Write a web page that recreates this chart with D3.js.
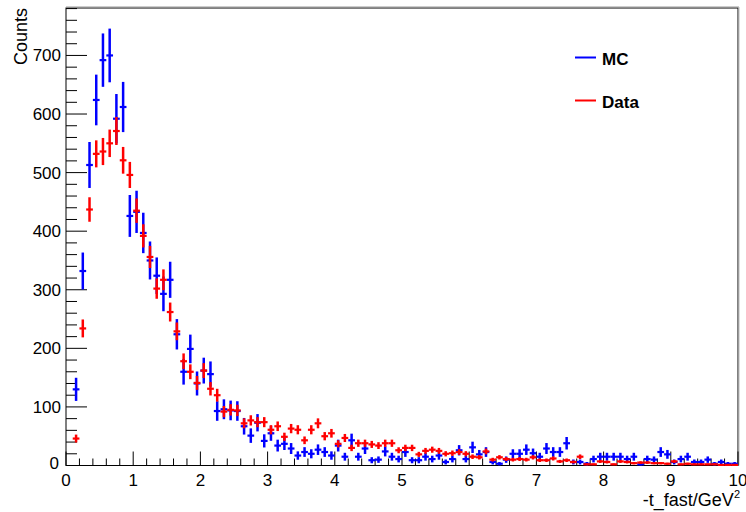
<!DOCTYPE html>
<html><head><meta charset="utf-8">
<script src="https://cdn.jsdelivr.net/npm/d3@7"></script>
<style>body{margin:0;background:#fff}svg{display:block}text{font-family:"Liberation Sans",Arial,Helvetica,sans-serif}</style>
</head><body><div id="chart"></div>
<script>
const binCenters = d3.range(100).map(i => +(0.05 + i * 0.1).toFixed(2));
const mcCounts = [0,130,332,513,624,692,700,592,612,426,
  433,397,350,324,293,317,224,160,199,140,
  162,156,93,96,94,93,67,51,73,42,
  55,34,37,29,17,23,20,27,23,17,
  34,15,43,15,29,9,10,24,15,11,
  23,9,9,15,11,17,6,11,26,11,
  31,19,23,6,3,10,20,20,27,21,
  15,29,23,23,38,6,6,3,11,15,
  15,15,15,11,15,2,11,10,23,19,
  6,11,15,6,6,10,3,6,3,3];
const dataCounts = [0,46,234,437,532,536,550,571,521,496,
  435,392,356,302,317,262,229,178,160,141,
  162,131,120,92,95,94,72,77,74,74,
  61,67,49,63,61,43,61,72,50,55,
  37,47,30,38,38,36,34,38,38,26,
  30,30,19,25,27,25,20,21,23,20,
  15,14,24,10,14,11,10,11,10,14,
  9,9,12,7,9,6,15,2,2,7,
  6,2,7,6,4,5,5,4,4,3,
  7,2,3,2,2,2,2,1,1,1];
const mcScale = 3; // MC weight per event (error = sqrt(w*N))
const xTicks = [0,1,2,3,4,5,6,7,8,9,10];
const yTicks = [0,100,200,300,400,500,600,700];
const seriesNames = ["MC","Data"];
const seriesColors = ["#0000ff","#ff0000"];

const W = 746, H = 512;
const m = {left:66, right:8, top:8, bottom:46.5};
const svg = d3.select("#chart").append("svg").attr("width",W).attr("height",H);
const x = d3.scaleLinear().domain([0,10]).range([m.left, W - m.right]);
const y = d3.scaleLinear().domain([0,781]).range([H - m.bottom, m.top]);
const binW = 0.1;

// frame
svg.append("rect").attr("x",x(0)).attr("y",y(781)).attr("width",x(10)-x(0)).attr("height",y(0)-y(781))
  .attr("fill","none").attr("stroke","#000").attr("stroke-width",1);
svg.append("line").attr("x1",x(0)).attr("x2",x(10)+1).attr("y1",y(781)-1).attr("y2",y(781)-1).attr("stroke","#999");
svg.append("line").attr("x1",x(10)+1).attr("x2",x(10)+1).attr("y1",y(781)-1).attr("y2",y(0)).attr("stroke","#bbb");

// ticks
const g = svg.append("g").attr("stroke","#000").attr("stroke-width",1);
d3.range(0,10.001,0.2).forEach(v => {
  const major = Math.abs(v - Math.round(v)) < 1e-6;
  g.append("line").attr("x1",x(v)).attr("x2",x(v)).attr("y1",y(0)).attr("y2",y(0)-(major?14:7));
});
d3.range(0,781,20).forEach(v => {
  const major = v % 100 === 0;
  g.append("line").attr("x1",x(0)).attr("x2",x(0)+(major?21:11)).attr("y1",y(v)).attr("y2",y(v));
});
svg.selectAll(".xl").data(xTicks).enter().append("text")
  .attr("x",d=>x(d)).attr("y",y(0)+20).attr("text-anchor","middle").attr("font-size",17).text(d=>d);
svg.selectAll(".yl").data(yTicks).enter().append("text")
  .attr("x",d=> d===0 ? x(0)-7 : x(0)-5).attr("y",d=>y(d)+ (d===0? 3 : 6)).attr("text-anchor","end").attr("font-size",17).text(d=>d);

svg.append("text").attr("transform",`translate(27,8) rotate(-90)`).attr("text-anchor","end")
  .attr("font-size",18).text("Counts");
const xt = svg.append("text").attr("x",740).attr("y",506).attr("text-anchor","end").attr("font-size",18);
xt.append("tspan").text("-t_fast/GeV");
xt.append("tspan").attr("dy",-8).attr("font-size",11).text("2");

// histograms with error bars
function drawHist(vals, errFn, color){
  const pts = binCenters.map((c,i)=>({c, v: vals[i], e: errFn(vals[i])})).filter(d=>d.v>0);
  const gg = svg.append("g").attr("stroke",color);
  gg.selectAll(".v").data(pts).enter().append("line")
    .attr("x1",d=>x(d.c)).attr("x2",d=>x(d.c))
    .attr("y1",d=>y(Math.max(0,d.v-d.e))).attr("y2",d=>y(d.v+d.e)).attr("stroke-width",2.5);
  gg.selectAll(".h").data(pts).enter().append("line")
    .attr("x1",d=>x(d.c-binW/2)).attr("x2",d=>x(d.c+binW/2))
    .attr("y1",d=>y(d.v)).attr("y2",d=>y(d.v)).attr("stroke-width",2.2);
}
drawHist(mcCounts, v=>Math.sqrt(mcScale*v), seriesColors[0]);
drawHist(dataCounts, v=>Math.sqrt(v), seriesColors[1]);

// legend
const leg = svg.append("g");
seriesNames.forEach((n,i)=>{
  const ly = 57.5 + i*43;
  leg.append("line").attr("x1",575).attr("x2",596).attr("y1",ly).attr("y2",ly).attr("stroke",seriesColors[i]).attr("stroke-width",2);
  leg.append("text").attr("x",602).attr("y",ly+7).attr("font-size",17).attr("font-weight","bold").text(n);
});
</script></body></html>
